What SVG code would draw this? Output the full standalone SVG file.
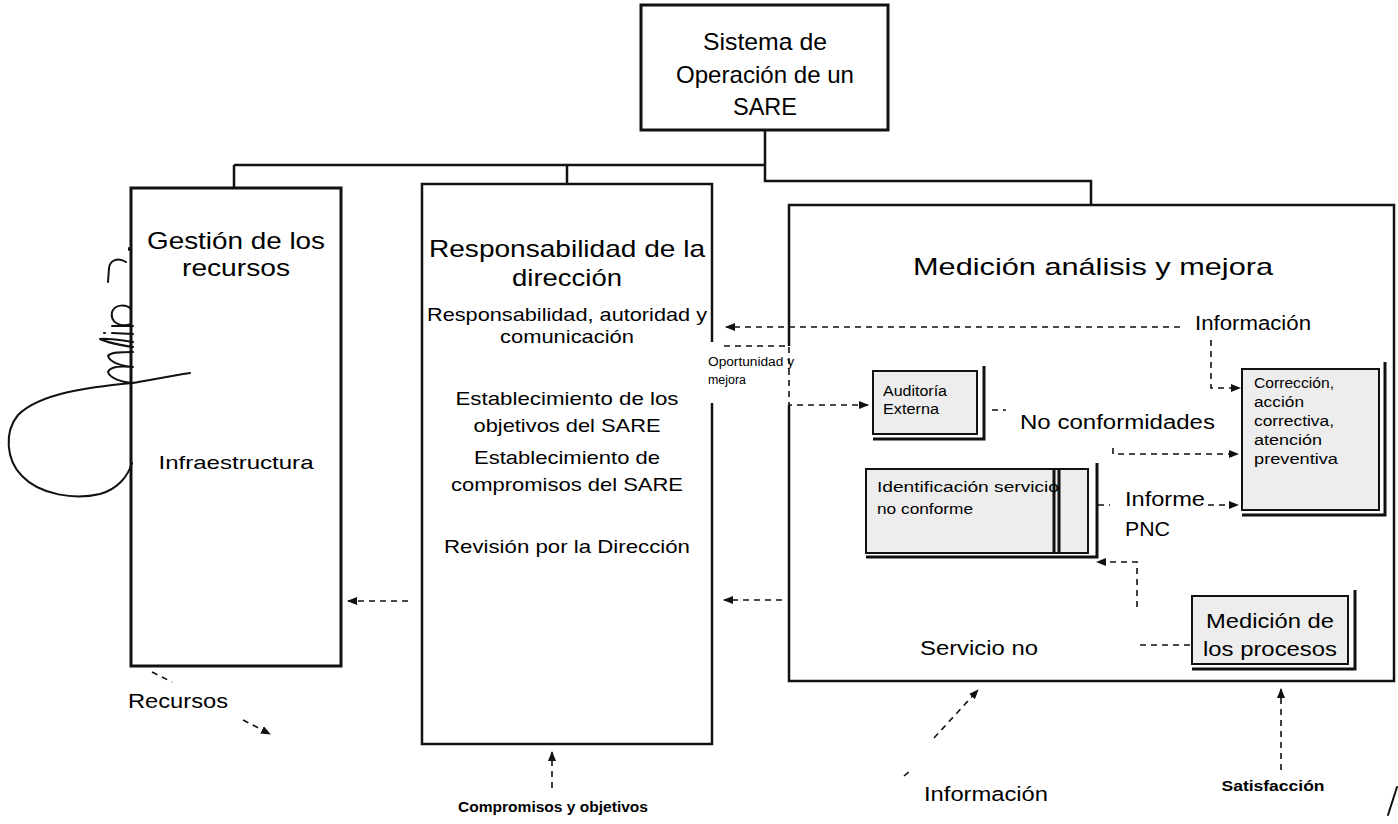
<svg xmlns="http://www.w3.org/2000/svg" width="1398" height="824" viewBox="0 0 1398 824">
<style>
text{font-family:"Liberation Sans",Arial,sans-serif;fill:#000}
.t{font-size:24px;text-anchor:middle}
.b{font-size:19px;text-anchor:middle}
.m{font-size:20px}
.s{font-size:14px}
.bold{font-weight:bold;font-size:14px;text-anchor:middle}
.box{fill:#fff;stroke:#111;stroke-width:3}
.ibox{fill:#ededed;stroke:#111;stroke-width:2}
.sh{fill:none;stroke:#111;stroke-width:3}
.line{fill:none;stroke:#111;stroke-width:2.5}
.d{fill:none;stroke:#111;stroke-width:1.6;stroke-dasharray:6 5}
.sig{fill:none;stroke:#111;stroke-width:2;stroke-linecap:round;stroke-linejoin:round}
</style>
<defs>
<marker id="a" markerWidth="10" markerHeight="10" refX="9" refY="5" orient="auto" markerUnits="userSpaceOnUse">
<path d="M0,1 L10,5 L0,9 z" fill="#111"/>
</marker>
</defs>

<g id="connectors">
<path class="line" d="M765,130 V165 M234,165 H765 M234,165 V188 M567,165 V184 M765,165 V181 H1091 V205"/>
<path class="d" d="M1180,327 H726" marker-end="url(#a)"/>
<path class="d" d="M1211,340 V388 H1240" marker-end="url(#a)"/>
<path class="d" d="M724,346 H789 V405 H868" marker-end="url(#a)"/>
<path class="d" d="M992,410 H1006"/>
<path class="d" d="M1113,448 V454 H1238" marker-end="url(#a)"/>
<path class="d" d="M1098,505 H1110"/>
<path class="d" d="M1208,505 H1238" marker-end="url(#a)"/>
<path class="d" d="M1137,607 V562 H1097" marker-end="url(#a)"/>
<path class="d" d="M1140,645 H1190"/>
<path class="d" d="M782,600 H724" marker-end="url(#a)"/>
<path class="d" d="M408,601 H348" marker-end="url(#a)"/>
<path class="d" d="M152,672 L172,682"/>
<path class="d" d="M243,720 L270,734" marker-end="url(#a)"/>
<path class="d" d="M552,788 V752" marker-end="url(#a)"/>
<path class="d" d="M934,738 L978,690" marker-end="url(#a)"/>
<path class="d" d="M904,776 L910,771"/>
<path class="d" d="M1281,770 V689" marker-end="url(#a)"/>
</g>

<g id="n-top">
<rect class="box" x="641" y="5" width="247" height="125"/>
<text class="t" x="765" y="50" textLength="124" lengthAdjust="spacingAndGlyphs">Sistema de</text>
<text class="t" x="765" y="83" textLength="178" lengthAdjust="spacingAndGlyphs">Operación de un</text>
<text class="t" x="765" y="115" textLength="64" lengthAdjust="spacingAndGlyphs">SARE</text>
</g>

<g id="n-recursos">
<rect class="box" x="131" y="188" width="210" height="478"/>
<text class="t" x="236" y="249" textLength="178" lengthAdjust="spacingAndGlyphs">Gestión de los</text>
<text class="t" x="236" y="276" textLength="108" lengthAdjust="spacingAndGlyphs">recursos</text>
<text class="b" x="236" y="469" font-size="20" textLength="155" lengthAdjust="spacingAndGlyphs">Infraestructura</text>
</g>

<g id="n-direccion">
<path class="line" stroke-width="3" d="M712,342 V184 H422 V744 H712 V403"/>
<text class="t" x="567" y="257" textLength="276" lengthAdjust="spacingAndGlyphs">Responsabilidad de la</text>
<text class="t" x="567" y="286" textLength="110" lengthAdjust="spacingAndGlyphs">dirección</text>
<text class="b" x="567" y="321" font-size="20" textLength="280" lengthAdjust="spacingAndGlyphs">Responsabilidad, autoridad y</text>
<text class="b" x="567" y="343" font-size="20" textLength="134" lengthAdjust="spacingAndGlyphs">comunicación</text>
<text class="b" x="567" y="405" font-size="20" textLength="223" lengthAdjust="spacingAndGlyphs">Establecimiento de los</text>
<text class="b" x="567" y="432" font-size="20" textLength="187" lengthAdjust="spacingAndGlyphs">objetivos del SARE</text>
<text class="b" x="567" y="464" font-size="20" textLength="186" lengthAdjust="spacingAndGlyphs">Establecimiento de</text>
<text class="b" x="567" y="491" font-size="20" textLength="232" lengthAdjust="spacingAndGlyphs">compromisos del SARE</text>
<text class="b" x="567" y="553" font-size="20" textLength="246" lengthAdjust="spacingAndGlyphs">Revisión por la Dirección</text>
</g>

<g id="n-oportunidad">
<text x="708" y="366" font-size="12.5" textLength="86" lengthAdjust="spacingAndGlyphs">Oportunidad y</text>
<text x="708" y="384" font-size="12.5" textLength="38" lengthAdjust="spacingAndGlyphs">mejora</text>
</g>

<g id="n-medicion">
<path class="line" stroke-width="3" d="M789,346 V205 H1394 V681 H789 V405"/>
<text class="t" x="1093" y="275" textLength="360" lengthAdjust="spacingAndGlyphs">Medición análisis y mejora</text>
<text class="m" x="1195" y="330" font-size="21" textLength="116" lengthAdjust="spacingAndGlyphs">Información</text>
<text class="m" x="1020" y="429" font-size="21" textLength="195" lengthAdjust="spacingAndGlyphs">No conformidades</text>
<text class="m" x="1125" y="506" font-size="21" textLength="80" lengthAdjust="spacingAndGlyphs">Informe</text>
<text class="m" x="1125" y="536" font-size="21" textLength="45" lengthAdjust="spacingAndGlyphs">PNC</text>
<text class="m" x="920" y="655" font-size="21" textLength="118" lengthAdjust="spacingAndGlyphs">Servicio no</text>
</g>

<g id="n-auditoria">
<rect class="ibox" x="873" y="371" width="104" height="63"/>
<path class="sh" d="M984,366 V439 H873"/>
<text class="s" x="883" y="396" font-size="15" textLength="64" lengthAdjust="spacingAndGlyphs">Auditoría</text>
<text class="s" x="883" y="414" font-size="15" textLength="56" lengthAdjust="spacingAndGlyphs">Externa</text>
</g>

<g id="n-correccion">
<rect class="ibox" x="1242" y="369" width="137" height="141"/>
<path class="sh" d="M1385,362 V515 H1242"/>
<text class="s" x="1254" y="388" font-size="15" textLength="80" lengthAdjust="spacingAndGlyphs">Corrección,</text>
<text class="s" x="1254" y="407" font-size="15" textLength="50" lengthAdjust="spacingAndGlyphs">acción</text>
<text class="s" x="1254" y="426" font-size="15" textLength="80" lengthAdjust="spacingAndGlyphs">correctiva,</text>
<text class="s" x="1254" y="445" font-size="15" textLength="68" lengthAdjust="spacingAndGlyphs">atención</text>
<text class="s" x="1254" y="464" font-size="15" textLength="84" lengthAdjust="spacingAndGlyphs">preventiva</text>
</g>

<g id="n-identificacion">
<rect class="ibox" x="866" y="469" width="222" height="84"/>
<path class="sh" d="M1054,469 V553 M1059,469 V553"/>
<path class="sh" d="M1097,463 V557 H866"/>
<text class="s" x="877" y="492" font-size="16" textLength="182" lengthAdjust="spacingAndGlyphs">Identificación servicio</text>
<text class="s" x="877" y="514" font-size="16" textLength="96" lengthAdjust="spacingAndGlyphs">no conforme</text>
</g>

<g id="n-procesos">
<rect class="ibox" x="1192" y="596" width="156" height="68"/>
<path class="sh" d="M1355,590 V669 H1192"/>
<text class="m" x="1206" y="628" font-size="22" textLength="128" lengthAdjust="spacingAndGlyphs">Medición de</text>
<text class="m" x="1203" y="656" font-size="22" textLength="134" lengthAdjust="spacingAndGlyphs">los procesos</text>
</g>

<g id="labels">
<text class="m" x="128" y="708" font-size="19" textLength="100" lengthAdjust="spacingAndGlyphs">Recursos</text>
<text class="bold" x="553" y="812" textLength="190" lengthAdjust="spacingAndGlyphs">Compromisos y objetivos</text>
<text class="m" x="924" y="801" textLength="124" lengthAdjust="spacingAndGlyphs">Información</text>
<text class="bold" x="1273" y="791" textLength="103" lengthAdjust="spacingAndGlyphs">Satisfacción</text>
</g>

<g id="marks">
<path class="sig" d="M190,373 C170,376 150,380 132,383 C90,387 40,393 18,415 C4,432 6,460 22,476 C40,495 75,500 100,494 C118,489 128,476 132,463"/>
<path class="sig" d="M133,383 C120,382 110,378 108,372 C110,366 122,366 133,367 C120,366 110,362 108,356 C110,352 122,352 133,352 M133,347 C120,345 106,342 100,339 C106,338 120,340 133,342 M133,334 L112,333 M104,333 L105,333 M131,324 C120,328 110,322 112,312 C115,304 126,304 131,309 M133,326 L112,326"/>
<path class="sig" d="M108,282 L109,268 C110,260 118,257 126,262 M129,248 L129,250"/>
<path class="sig" d="M1388,815 L1397,787"/>
</g>
</svg>
